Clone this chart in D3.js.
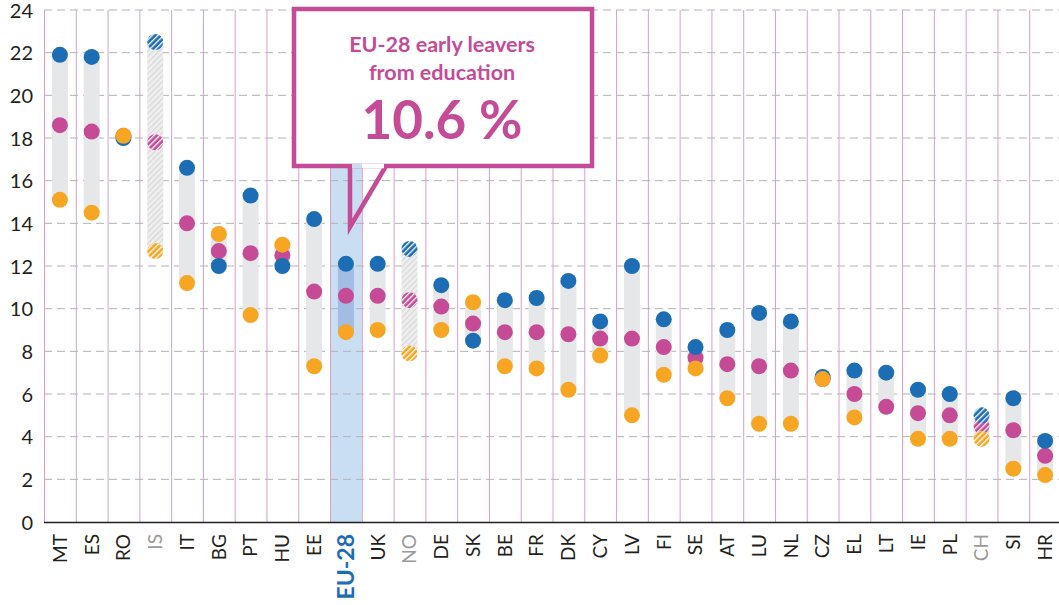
<!DOCTYPE html>
<html>
<head>
<meta charset="utf-8">
<title>Early leavers from education</title>
<script src="https://cdn.jsdelivr.net/npm/d3@7"></script>
<style>
body { margin: 0; background: #fff; }
svg { display: block; font-family: Lato, "Open Sans", sans-serif; }
.grid line { stroke: #b3b3b3; stroke-dasharray: 8,5; stroke-width: 1; }
.vline { stroke: #dc9ec9; stroke-width: 1; }
.ytick { font-size: 20px; fill: #231f20; }
.xlab { font-size: 19px; fill: #231f20; }
</style>
</head>
<body>
<svg id="chart" width="1059" height="605"></svg>
<script>
// values (%)
var countries = ["MT","ES","RO","IS","IT","BG","PT","HU","EE","EU-28","UK","NO","DE","SK","BE","FR","DK","CY","LV","FI","SE","AT","LU","NL","CZ","EL","LT","IE","PL","CH","SI","HR"];
var men   = [21.9,21.8,18.0,22.5,16.6,12.0,15.3,12.0,14.2,12.1,12.1,12.8,11.1,8.5,10.4,10.5,11.3,9.4,12.0,9.5,8.2,9.0,9.8,9.4,6.8,7.1,7.0,6.2,6.0,5.0,5.8,3.8];
var total = [18.6,18.3,18.1,17.8,14.0,12.7,12.6,12.5,10.8,10.6,10.6,10.4,10.1,9.3,8.9,8.9,8.8,8.6,8.6,8.2,7.7,7.4,7.3,7.1,6.7,6.0,5.4,5.1,5.0,4.5,4.3,3.1];
var women = [15.1,14.5,18.1,12.7,11.2,13.5,9.7,13.0,7.3,8.9,9.0,7.9,9.0,10.3,7.3,7.2,6.2,7.8,5.0,6.9,7.2,5.8,4.6,4.6,6.7,4.9,null,3.9,3.9,3.9,2.5,2.2];
var nonEU = ["IS","NO","CH"];
var yTicks = [0,2,4,6,8,10,12,14,16,18,20,22,24];
var calloutLines = ["EU-28 early leavers", "from education"];
var calloutValue = "10.6 %";

var colBlue = "#1d6db5", colMag = "#c54b97", colOrange = "#f6a623";

var svg = d3.select("#chart"),
    plotLeft = 44, plotRight = 1061, plotTop = 10, plotBottom = 522;

var x = d3.scaleBand().domain(countries).range([plotLeft, plotRight]).padding(0);
var y = d3.scaleLinear().domain([0, 24]).range([plotBottom, plotTop]);
var cx = d => x(d) + x.bandwidth() / 2;

// hatch patterns
var defs = svg.append("defs");
function hatch(id, bg, fg, w) {
  var p = defs.append("pattern").attr("id", id)
    .attr("patternUnits", "userSpaceOnUse")
    .attr("width", 4).attr("height", 4)
    .attr("patternTransform", "rotate(45)");
  p.append("rect").attr("width", 4).attr("height", 4).attr("fill", bg);
  p.append("rect").attr("x", 0).attr("width", w).attr("height", 4).attr("fill", fg);
}
hatch("h-blue", colBlue, "#ffffff", 1.3);
hatch("h-mag", colMag, "#ffffff", 1.3);
hatch("h-orange", colOrange, "#ffffff", 1.3);
hatch("h-bar", "#eeeeee", "#d8d8d8", 1.2);

// EU-28 highlight band
svg.append("rect")
  .attr("x", x("EU-28")).attr("y", plotTop)
  .attr("width", x.bandwidth()).attr("height", plotBottom - plotTop)
  .attr("fill", "#c9def2");

// horizontal dashed grid
svg.append("g").attr("class", "grid")
  .selectAll("line").data(yTicks.filter(d => d > 0)).join("line")
  .attr("x1", plotLeft).attr("x2", 1059)
  .attr("y1", d => y(d)).attr("y2", d => y(d));

// vertical separators
svg.append("g").selectAll("line").data(countries).join("line")
  .attr("class", "vline")
  .attr("x1", d => x(d) + 0.5).attr("x2", d => x(d) + 0.5)
  .attr("y1", plotTop).attr("y2", plotBottom);

// y tick labels
svg.append("g").selectAll("text").data(yTicks).join("text")
  .attr("class", "ytick")
  .attr("x", 33).attr("y", d => y(d))
  .attr("dy", "0.38em")
  .attr("text-anchor", "end")
  .text(d => d);

// baseline axis
svg.append("line")
  .attr("x1", plotLeft).attr("x2", 1059)
  .attr("y1", plotBottom + 0.5).attr("y2", plotBottom + 0.5)
  .attr("stroke", "#231f20").attr("stroke-width", 1.5);

var rows = countries.map((c, i) => ({c: c, men: men[i], total: total[i], women: women[i]}));

// range bars
svg.append("g").selectAll("rect").data(rows).join("rect")
  .attr("x", d => cx(d.c) - 8)
  .attr("width", 16)
  .attr("y", d => y(d3.max([d.men, d.total, d.women])))
  .attr("height", d => y(d3.min([d.men, d.total, d.women])) - y(d3.max([d.men, d.total, d.women])))
  .attr("fill", d => d.c === "EU-28" ? "#a3bde2" : nonEU.includes(d.c) ? "url(#h-bar)" : "#e6e7e8");

// dots: total first, then men, then women on top
var series = [
  {key: "total", col: colMag, pat: "url(#h-mag)"},
  {key: "men", col: colBlue, pat: "url(#h-blue)"},
  {key: "women", col: colOrange, pat: "url(#h-orange)"}
];
series.forEach(function(s) {
  svg.append("g").selectAll("circle")
    .data(rows.filter(d => d[s.key] != null)).join("circle")
    .attr("cx", d => cx(d.c))
    .attr("cy", d => y(d[s.key]))
    .attr("r", 8)
    .attr("fill", d => nonEU.includes(d.c) ? s.pat : s.col);
});

// x labels (rotated)
svg.append("g").selectAll("text").data(countries).join("text")
  .attr("transform", d => "translate(" + (cx(d)) + "," + (plotBottom + 12) + ") rotate(-90)")
  .attr("dy", "0.36em")
  .attr("text-anchor", "end")
  .attr("class", "xlab")
  .style("font-size", d => d === "EU-28" ? "23px" : null)
  .style("font-weight", d => d === "EU-28" ? "bold" : null)
  .style("fill", d => d === "EU-28" ? colBlue : nonEU.includes(d) ? "#9a9a9a" : null)
  .text(d => d);

// callout box
var co = svg.append("g");
co.append("rect")
  .attr("x", 294).attr("y", 9)
  .attr("width", 298).attr("height", 157)
  .attr("fill", "#fff")
  .attr("stroke", colMag).attr("stroke-width", 4.5);
co.append("path")
  .attr("d", "M350,166 L350,227 L386,166")
  .attr("fill", "none")
  .attr("stroke", colMag).attr("stroke-width", 4.5)
  .attr("stroke-linejoin", "miter");
co.append("line")
  .attr("x1", 352).attr("x2", 362)
  .attr("y1", 166).attr("y2", 166)
  .attr("stroke", "#c9def2").attr("stroke-width", 4.5);
co.append("line")
  .attr("x1", 362).attr("x2", 384)
  .attr("y1", 166).attr("y2", 166)
  .attr("stroke", "#ffffff").attr("stroke-width", 4.5);
co.selectAll("text.l").data(calloutLines).join("text")
  .attr("class", "l")
  .attr("x", 442).attr("y", (d, i) => 52 + i * 28)
  .attr("text-anchor", "middle")
  .attr("fill", colMag)
  .style("font-size", "21.5px").style("font-weight", "bold")
  .text(d => d);
co.append("text")
  .attr("x", 442).attr("y", 139)
  .attr("text-anchor", "middle")
  .attr("fill", colMag)
  .style("font-size", "53px").style("font-weight", "bold")
  .text(calloutValue);
</script>
</body>
</html>
